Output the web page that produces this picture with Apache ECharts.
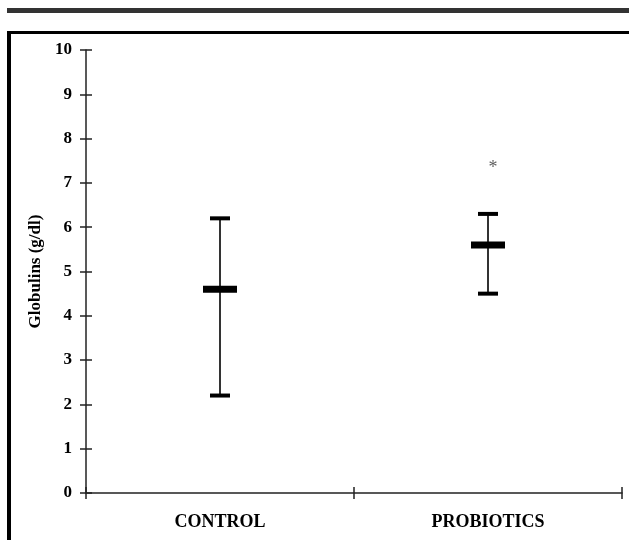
<!DOCTYPE html>
<html>
<head>
<meta charset="utf-8">
<script src="https://cdn.jsdelivr.net/npm/echarts@6/dist/echarts.min.js"></script>
<style>
html,body{margin:0;padding:0;background:#fff;}
#chart{width:629px;height:540px;}
</style>
</head>
<body>
<div id="chart"></div>
<script>
var categories = ['CONTROL', 'PROBIOTICS'];
var means = [4.6, 5.6];
var upper = [6.2, 6.3];
var lower = [2.2, 4.5];
var yTicks = [0, 1, 2, 3, 4, 5, 6, 7, 8, 9, 10];
var significance = [{ category: 'PROBIOTICS', value: 7.4, mark: '*' }];

var chart = echarts.init(document.getElementById('chart'));
var font = 'Liberation Serif';

var errData = categories.map(function (c, i) { return [i, means[i], upper[i], lower[i]]; });

var option = {
  animation: false,
  backgroundColor: '#fff',
  grid: { left: 86, right: 7, top: 50, bottom: 47 },
  graphic: [
    { type: 'rect', shape: { x: 7, y: 8, width: 640, height: 5 }, style: { fill: '#333' }, silent: true },
    { type: 'rect', shape: { x: 7, y: 31, width: 640, height: 3 }, style: { fill: '#000' }, silent: true },
    { type: 'rect', shape: { x: 7, y: 31, width: 4, height: 520 }, style: { fill: '#000' }, silent: true }
  ],
  xAxis: [
    {
      type: 'category', data: categories, boundaryGap: true,
      axisLine: { lineStyle: { color: '#222', width: 1.5 } },
      axisTick: { show: true, length: 6, lineStyle: { color: '#222', width: 1.5 } },
      axisLabel: { fontFamily: font, fontWeight: 'bold', fontSize: 18, color: '#000', margin: 20 },
      splitLine: { show: false }
    },
    {
      type: 'category', data: categories, boundaryGap: true, position: 'bottom',
      axisLine: { show: false },
      axisTick: { show: true, inside: true, length: 6, lineStyle: { color: '#222', width: 1.5 } },
      axisLabel: { show: false }, splitLine: { show: false }
    }
  ],
  yAxis: [
    {
      type: 'value', min: yTicks[0], max: yTicks[yTicks.length - 1], interval: 1,
      name: 'Globulins (g/dl)', nameLocation: 'middle', nameGap: 42,
      nameTextStyle: { fontFamily: font, fontWeight: 'bold', fontSize: 17, color: '#000' },
      axisLine: { show: true, lineStyle: { color: '#222', width: 1.5 } },
      axisTick: { show: true, length: 6, lineStyle: { color: '#222', width: 1.5 } },
      axisLabel: { fontFamily: font, fontWeight: 'bold', fontSize: 17, color: '#000', margin: 14 },
      splitLine: { show: false }
    },
    {
      type: 'value', min: yTicks[0], max: yTicks[yTicks.length - 1], interval: 1, position: 'left',
      axisLine: { show: false },
      axisTick: { show: true, inside: true, length: 6, lineStyle: { color: '#222', width: 1.5 } },
      axisLabel: { show: false }, splitLine: { show: false }
    }
  ],
  series: [
    {
      type: 'custom',
      data: errData,
      renderItem: function (params, api) {
        var x = api.value(0);
        var top = api.coord([x, api.value(2)]);
        var mid = api.coord([x, api.value(1)]);
        var bot = api.coord([x, api.value(3)]);
        return {
          type: 'group',
          children: [
            { type: 'line', shape: { x1: top[0], y1: top[1], x2: bot[0], y2: bot[1] }, style: { stroke: '#333', lineWidth: 2 } },
            { type: 'rect', shape: { x: top[0] - 10, y: top[1] - 2, width: 20, height: 4 }, style: { fill: '#000' } },
            { type: 'rect', shape: { x: bot[0] - 10, y: bot[1] - 2, width: 20, height: 4 }, style: { fill: '#000' } },
            { type: 'rect', shape: { x: mid[0] - 17, y: mid[1] - 3.5, width: 34, height: 7 }, style: { fill: '#000' } }
          ]
        };
      }
    },
    {
      type: 'scatter',
      symbolSize: 1,
      itemStyle: { color: 'rgba(0,0,0,0)' },
      data: significance.map(function (s) { return [categories.indexOf(s.category), s.value, s.mark]; }),
      label: {
        show: true, position: 'inside', offset: [5, 3],
        formatter: function (p) { return p.value[2]; },
        fontFamily: font, fontSize: 18, color: '#333'
      }
    }
  ]
};
chart.setOption(option);
</script>
</body>
</html>
